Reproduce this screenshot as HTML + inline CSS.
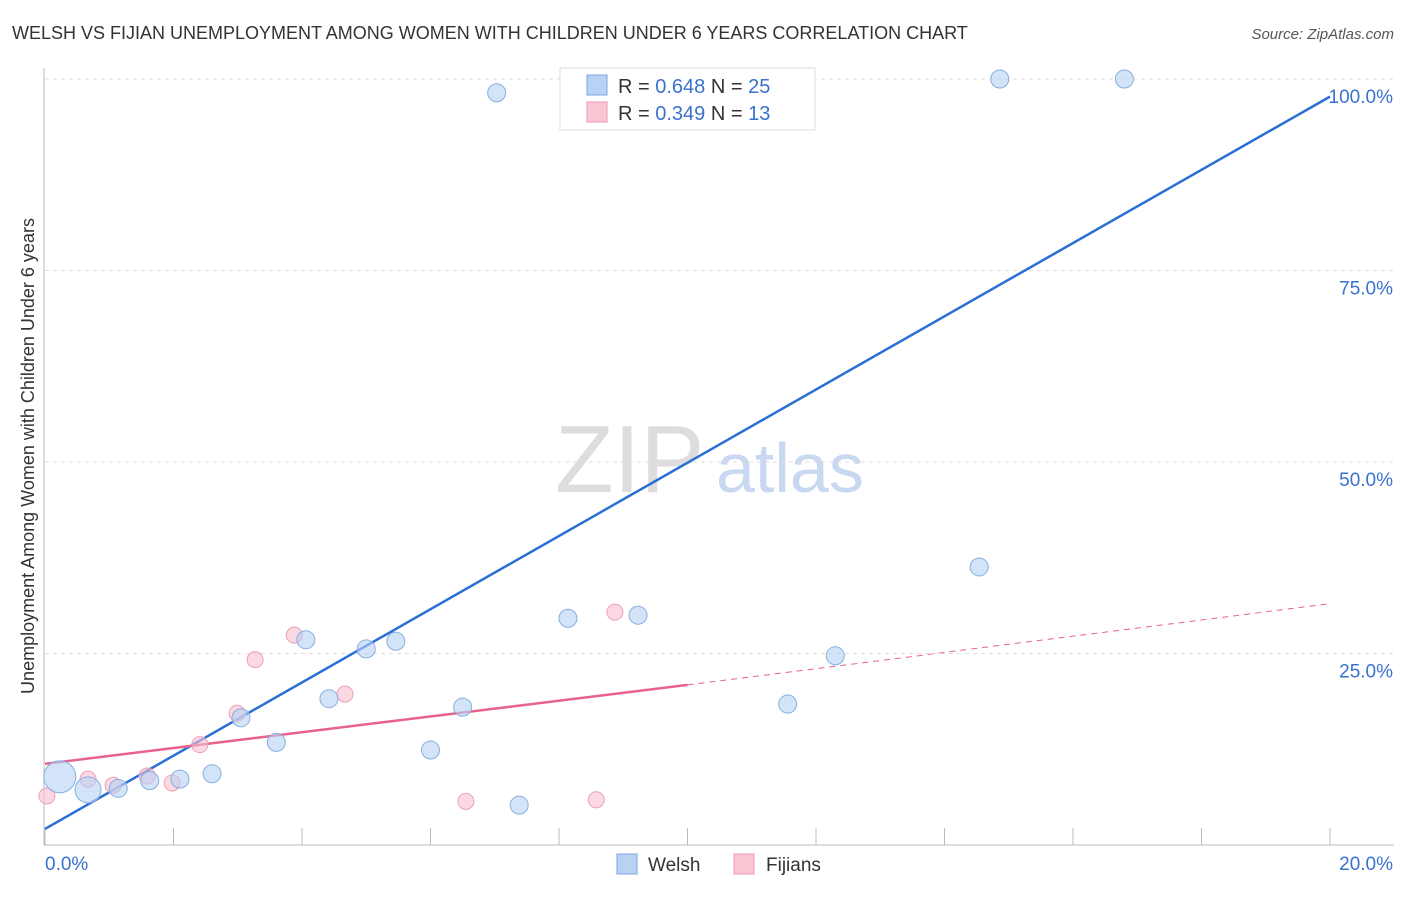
<!DOCTYPE html>
<html><head><meta charset="utf-8"><style>
body{margin:0;background:#fff;font-family:"Liberation Sans",sans-serif;}
svg text{font-family:"Liberation Sans",sans-serif;}
</style></head><body>
<svg width="1406" height="892" xmlns="http://www.w3.org/2000/svg" id="chart">
<text x="12" y="39" font-size="18" fill="#333">WELSH VS FIJIAN UNEMPLOYMENT AMONG WOMEN WITH CHILDREN UNDER 6 YEARS CORRELATION CHART</text>
<text x="1394" y="39" font-size="15" fill="#555" font-style="italic" text-anchor="end">Source: ZipAtlas.com</text>
<text x="555" y="492" font-size="96" fill="#ddd" font-family="Liberation Serif">ZIP</text>
<text x="716" y="492" font-size="70" fill="#c8d8f0">atlas</text>
<text transform="translate(34,456) rotate(-90)" font-size="18" fill="#333" text-anchor="middle">Unemployment Among Women with Children Under 6 years</text>
<g id="grid"></g><g id="axes"></g><g id="lines"></g><g id="pts"></g>
<g>
<rect x="560" y="68" width="255" height="62" fill="#fff" stroke="#ddd"/>
<rect x="587" y="75" width="20" height="20" fill="#b8d2f4" stroke="#7aa6e0"/>
<text x="618" y="93" font-size="20" fill="#333">R = <tspan fill="#3a72d0">0.648</tspan>   N = <tspan fill="#3a72d0">25</tspan></text>
<rect x="587" y="102" width="20" height="20" fill="#f9c6d4" stroke="#eb9ab0"/>
<text x="618" y="120" font-size="20" fill="#333">R = <tspan fill="#3a72d0">0.349</tspan>   N =  <tspan fill="#3a72d0">13</tspan></text>
</g>
<g>
<rect x="617" y="854" width="20" height="20" fill="#b8d2f4" stroke="#7aa6e0"/>
<text x="648" y="871" font-size="19" fill="#333">Welsh</text>
<rect x="734" y="854" width="20" height="20" fill="#f9c6d4" stroke="#eb9ab0"/>
<text x="766" y="871" font-size="19" fill="#333">Fijians</text>
</g>
</svg>
<script>
const welshX=[0.23,0.67,1.14,1.63,2.1,2.6,3.05,3.6,4.06,4.42,5.0,5.46,6.0,6.5,7.03,7.38,8.14,8.65,9.23,10.6,11.56,12.3,14.54,14.86,16.8];
const welshY=[8.9,7.2,7.4,8.4,8.6,9.3,16.6,13.4,26.8,19.1,25.6,26.6,12.4,18.0,98.2,5.2,29.6,100,30.0,100,18.4,24.7,36.3,100,100];
const welshR=[16,13,9,9,9,9,9,9,9,9,9,9,9,9,9,9,9,9,9,9,9,9,9,9,9];
const fijiX=[0.03,0.67,1.06,1.59,1.98,2.41,2.99,3.27,3.88,4.67,6.55,8.58,8.87];
const fijiY=[6.4,8.6,7.8,9.0,8.1,13.1,17.2,24.2,27.4,19.7,5.7,5.9,30.4];
const welshFit=[2.1,97.7];
const fijiFit=[10.6,20.9,31.5];
const yTicks=[25,50,75,100];
const xTickLabels=["0.0%","20.0%"];
const X=v=>45+v/20*1285, Y=v=>845-v*7.66;
const NS="http://www.w3.org/2000/svg";
function mk(p,t,a){const e=document.createElementNS(NS,t);for(const k in a)e.setAttribute(k,a[k]);document.getElementById(p).appendChild(e);return e;}
yTicks.forEach(v=>{
 const l=mk('grid','line',{x1:45,x2:1394,y1:Y(v),y2:Y(v),stroke:'#ddd','stroke-dasharray':'4,4'});
 
 
 const t=mk('grid','text',{x:1393,y:Y(v)+24,'font-size':19,fill:'#3a72d0','text-anchor':'end'});t.textContent=v.toFixed(1)+'%';
 
 
});
let a=mk('axes','line',{x1:44,x2:44,y1:68,y2:845,stroke:'#bbb'});


a=mk('axes','line',{x1:44,x2:1394,y1:845,y2:845,stroke:'#bbb'});


for(let i=0;i<=10;i++){const t=mk('axes','line',{x1:X(i*2),x2:X(i*2),y1:828,y2:845,stroke:'#bbb'});
 
 }
let t=mk('axes','text',{x:45,y:870,'font-size':19,fill:'#3a72d0'});t.textContent=xTickLabels[0];


t=mk('axes','text',{x:1393,y:870,'font-size':19,fill:'#3a72d0','text-anchor':'end'});t.textContent=xTickLabels[1];


let l=mk('lines','line',{x1:X(0),y1:Y(welshFit[0]),x2:X(20),y2:Y(welshFit[1]),stroke:'#2a6fd6','stroke-width':2.5});


l=mk('lines','line',{x1:X(0),y1:Y(fijiFit[0]),x2:X(10),y2:Y(fijiFit[1]),stroke:'#e8628c','stroke-width':2.5});


l=mk('lines','line',{x1:X(10),y1:Y(fijiFit[1]),x2:X(20),y2:Y(fijiFit[2]),stroke:'#e8628c','stroke-width':1,'stroke-dasharray':'6,5'});


fijiX.forEach((x,i)=>{const c=mk('pts','circle',{cx:X(x),cy:Y(fijiY[i]),r:8,fill:'rgba(248,190,206,0.6)',stroke:'#eda0b6'});
 
 });
welshX.forEach((x,i)=>{const c=mk('pts','circle',{cx:X(x),cy:Y(welshY[i]),r:welshR[i],fill:'rgba(184,210,244,0.6)',stroke:'#86aee2'});
 
 });
</script>
</body></html>
